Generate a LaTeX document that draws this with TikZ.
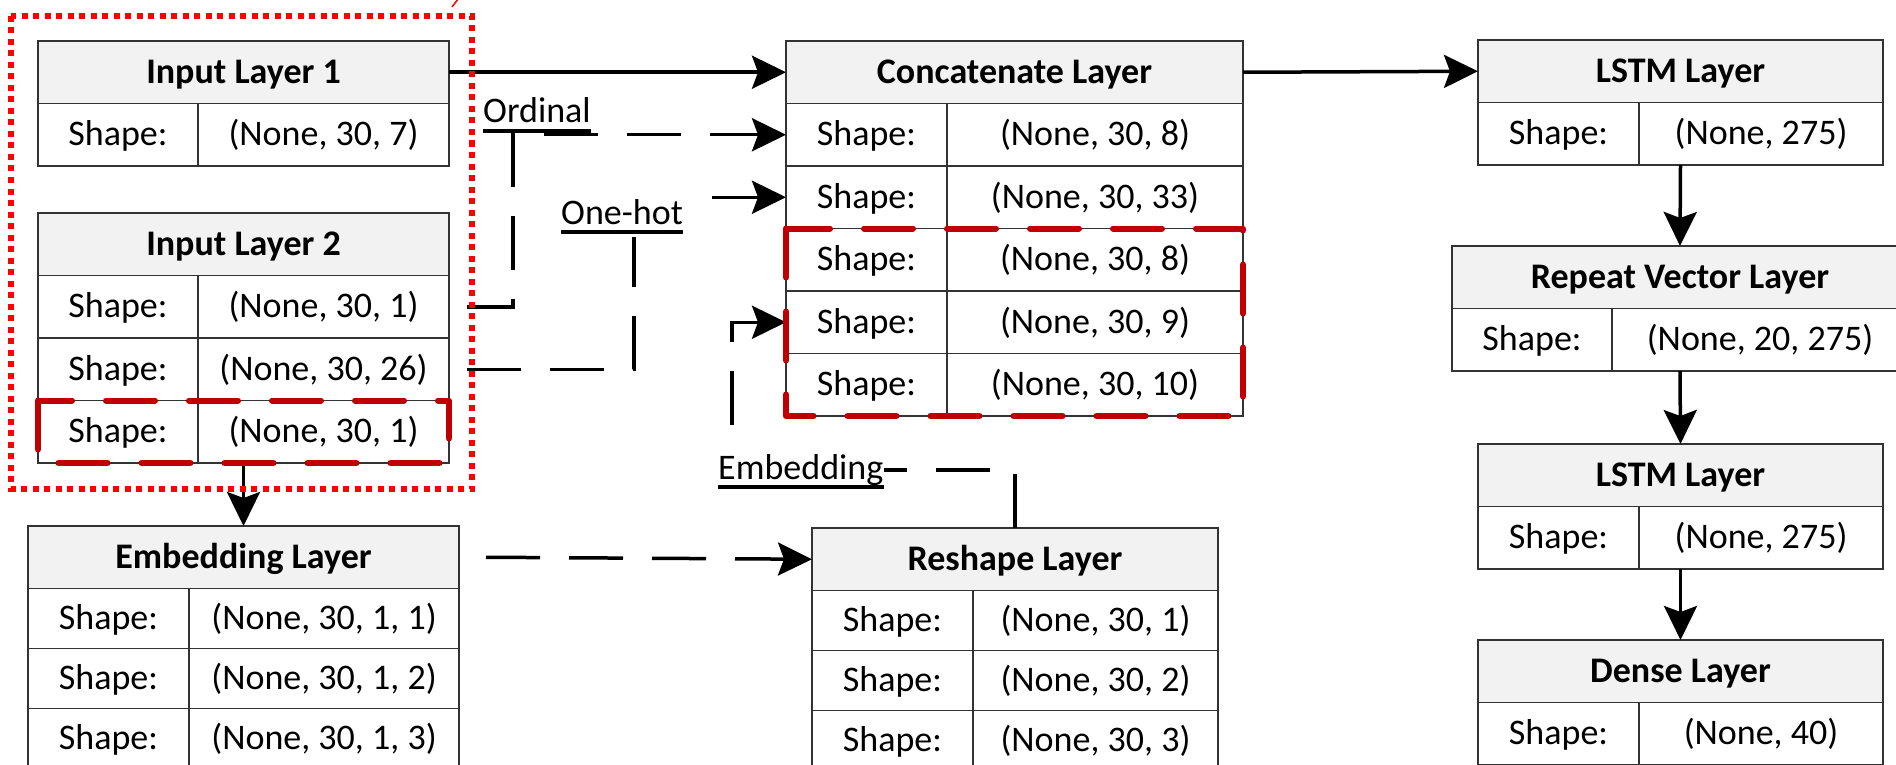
\documentclass[tikz,border=0pt]{standalone}
\usepackage{fontspec}
\setmainfont{Carlito}
\usetikzlibrary{arrows.meta,positioning,calc}
\definecolor{HeadFill}{RGB}{242,242,242}
\definecolor{FrameRed}{RGB}{255,0,0}
\definecolor{MarkRed}{RGB}{192,0,0}
\newcommand{\shaperow}[6][62.5pt]{%
  \node[cell, minimum height=#1, minimum width=#4, anchor=north west] (#2k) at (#3.south west) {Shape:};
  \node[cell, minimum height=#1, minimum width=#5, anchor=north west] (#2v) at (#2k.north east) {#6};
}

\begin{document}
\begin{tikzpicture}[x=1pt, y=-1pt, >={Stealth[length=34pt,width=33pt,inset=6pt]},
    cell/.style={draw=black!80, line width=1.5pt, fill=white, inner sep=0pt, outer sep=0pt, text height=30pt, text depth=8pt, font=\fontsize{36pt}{43pt}\selectfont},
    head/.style={cell, fill=HeadFill, minimum height=62.5pt, font=\fontsize{36pt}{43pt}\selectfont\bfseries},
    tag/.style={inner sep=0pt, text height=26pt, text depth=8pt, font=\fontsize{36pt}{43pt}\selectfont},
    link/.style={->, line width=3.5pt},
    dlink/.style={line width=3.5pt, dash pattern=on 54pt off 29pt},
    redbox/.style={draw=MarkRed, line width=6pt, dash pattern=on 49pt off 34pt, line cap=round, line join=round},
    dotbox/.style={draw=FrameRed, line width=6.5pt, dash pattern=on 6pt off 5.5pt}]
  \useasboundingbox (0,0) rectangle (1896,765);

  \node[head, minimum width=411pt, anchor=north west] (in1h) at (38,41) {Input Layer 1};
  \shaperow{in1r1}{in1h}{160pt}{251pt}{(None, 30, 7)}

  \node[head, minimum width=411pt, anchor=north west] (in2h) at (38,213) {Input Layer 2};
  \shaperow{in2r1}{in2h}{160pt}{251pt}{(None, 30, 1)}
  \shaperow{in2r2}{in2r1k}{160pt}{251pt}{(None, 30, 26)}
  \shaperow{in2r3}{in2r2k}{160pt}{251pt}{(None, 30, 1)}

  \node[head, minimum width=431pt, anchor=north west] (embh) at (28,526) {Embedding Layer};
  \shaperow[60pt]{embr1}{embh}{161pt}{270pt}{(None, 30, 1, 1)}
  \shaperow[60pt]{embr2}{embr1k}{161pt}{270pt}{(None, 30, 1, 2)}
  \shaperow[60pt]{embr3}{embr2k}{161pt}{270pt}{(None, 30, 1, 3)}

  \node[head, minimum width=457pt, anchor=north west] (cath) at (786,41) {Concatenate Layer};
  \shaperow{catr1}{cath}{161pt}{296pt}{(None, 30, 8)}
  \shaperow{catr2}{catr1k}{161pt}{296pt}{(None, 30, 33)}
  \shaperow{catr3}{catr2k}{161pt}{296pt}{(None, 30, 8)}
  \shaperow{catr4}{catr3k}{161pt}{296pt}{(None, 30, 9)}
  \shaperow{catr5}{catr4k}{161pt}{296pt}{(None, 30, 10)}

  \node[head, minimum width=406pt, anchor=north west] (reshh) at (812,528) {Reshape Layer};
  \shaperow[60pt]{reshr1}{reshh}{161pt}{245pt}{(None, 30, 1)}
  \shaperow[60pt]{reshr2}{reshr1k}{161pt}{245pt}{(None, 30, 2)}
  \shaperow[60pt]{reshr3}{reshr2k}{161pt}{245pt}{(None, 30, 3)}

  \node[head, minimum width=405pt, anchor=north west] (lstm1h) at (1478,40) {LSTM Layer};
  \shaperow{lstm1}{lstm1h}{161pt}{244pt}{(None, 275)}
  \node[head, minimum width=456pt, anchor=north west] (reph) at (1452,246) {Repeat Vector Layer};
  \shaperow{rep}{reph}{160pt}{296pt}{(None, 20, 275)}
  \node[head, minimum width=405pt, anchor=north west] (lstm2h) at (1478,444) {LSTM Layer};
  \shaperow{lstm2}{lstm2h}{161pt}{244pt}{(None, 275)}
  \node[head, minimum width=405pt, anchor=north west] (denseh) at (1478,640) {Dense Layer};
  \shaperow{dense}{denseh}{161pt}{244pt}{(None, 40)}

  \node[tag, anchor=base west] (ordinal) at (483,123) {Ordinal};
  \node[tag, anchor=base west] (onehot) at (561,224) {One-hot};
  \node[tag, anchor=base west] (embtag) at (718,479) {Embedding};
  \draw[line width=3.5pt] (ordinal.south west) -- (ordinal.south east);
  \draw[line width=3.5pt] (onehot.south west) -- (onehot.south east);
  \draw[line width=3.5pt] (embtag.south west) -- (embtag.south east);

  \draw[link] (in1h.east) -- (cath.west);
  \draw[link] (cath.east) -- (lstm1h.west);
  \draw[dlink,->] ([xshift=18pt]in2r1v.east) -| ([xshift=-24pt]ordinal.south |- catr1k.west) -- (catr1k.west);
  \draw[dlink] ([xshift=18pt]in2r2v.east) -| ([xshift=12pt,yshift=-5pt]onehot.south);
  \draw[link] ([xshift=29pt]onehot.east |- catr2k.west) -- (catr2k.west);
  \draw[dlink] (reshh.north) |- (embtag.east);
  \draw[dlink,->] ([xshift=14pt,yshift=28pt]embtag.north west) |- (catr4k.west);
  \draw[dlink,->] ([xshift=27pt]embh.east) -- (reshh.west);
  \draw[link] (embh.north |- in2r3k.south) -- (embh.north);
  \draw[link] (lstm1h.south |- lstm1k.south) -- (reph.north);
  \draw[link] (reph.south |- repk.south) -- (lstm2h.north);
  \draw[link] (lstm2h.south |- lstm2k.south) -- (denseh.north);

  \draw[redbox] (in2r3k.north west) rectangle (in2r3v.south east);
  \draw[redbox] (catr3k.north west) rectangle (catr5v.south east);
  \draw[dotbox] ([shift={(-27,-25)}]in1h.north west) rectangle ([shift={(23,26)}]in2r3v.south east);
  \draw[FrameRed, line width=1.5pt] (452,7) -- (458,-1);
\end{tikzpicture}
\end{document}
